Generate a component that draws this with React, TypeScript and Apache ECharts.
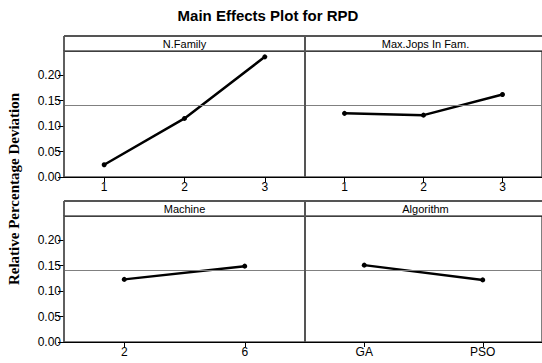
import React, { useEffect, useRef } from "react";
import * as echarts from "echarts";

const chartTitle = "Main Effects Plot for RPD";
const yAxisTitle = "Relative Percentage Deviation";
const panelTitles = ["N.Family", "Max.Jops In Fam.", "Machine", "Algorithm"];
const nFamilyLevels = ["1", "2", "3"];
const nFamilyMeans = [0.024, 0.115, 0.236];
const maxJopsLevels = ["1", "2", "3"];
const maxJopsMeans = [0.125, 0.1215, 0.162];
const machineLevels = ["2", "6"];
const machineMeans = [0.123, 0.149];
const algorithmLevels = ["GA", "PSO"];
const algorithmMeans = [0.151, 0.122];
const grandMean = 0.136;
const yTicks = [0, 0.05, 0.1, 0.15, 0.2];
const yMin = 0;
const yMax = 0.2475;

const levels = [nFamilyLevels, maxJopsLevels, machineLevels, algorithmLevels];
const means = [nFamilyMeans, maxJopsMeans, machineMeans, algorithmMeans];

export default function App() {
  const ref = useRef<HTMLDivElement>(null);
  useEffect(() => {
    if (!ref.current) return;
    const chart = echarts.init(ref.current, null, { renderer: "svg" });
    const PW = 241;
    const PH = 126;
    const SH = 15;
    const lefts = [64, 305, 64, 305];
    const tops = [51, 51, 216, 216];
    const font = "Liberation Sans";

    const grids = lefts.map((l, i) => ({
      left: l,
      top: tops[i],
      width: PW,
      height: PH,
      show: true,
      borderColor: "#555",
      borderWidth: 1.5,
      backgroundColor: "#fff",
    }));

    const xAxes = levels.map((lv, i) => ({
      type: "category",
      gridIndex: i,
      data: lv,
      boundaryGap: true,
      axisLine: { show: true, lineStyle: { color: "#000", width: 1 } },
      axisTick: { show: true, alignWithLabel: true, length: 5, lineStyle: { color: "#000" } },
      axisLabel: { color: "#000", fontFamily: font, fontSize: 12, margin: 4 },
      splitLine: { show: false },
    }));

    const yAxes = levels.map((_, i) => {
      const showLab = i % 2 === 0;
      return {
        type: "value",
        gridIndex: i,
        min: yMin,
        max: yMax,
        interval: 0.05,
        axisLine: { show: false },
        axisTick: {
          show: showLab,
          length: 6,
          lineStyle: { color: "#000" },
          customValues: yTicks,
        },
        axisLabel: {
          show: showLab,
          color: "#000",
          fontFamily: font,
          fontSize: 12,
          margin: 3,
          customValues: yTicks,
          formatter: (v: number) => v.toFixed(2),
        },
        splitLine: { show: false },
      };
    });

    const series = means.map((m, i) => ({
      type: "line",
      xAxisIndex: i,
      yAxisIndex: i,
      data: m,
      symbol: "circle",
      symbolSize: 5,
      lineStyle: { color: "#000", width: 2.5 },
      itemStyle: { color: "#000" },
      markLine: {
        silent: true,
        symbol: ["none", "none"],
        label: { show: false },
        lineStyle: { color: "#808080", width: 1, type: "solid" },
        data: [{ yAxis: grandMean }],
      },
      z: 3,
    }));

    const graphic: any[] = [];
    lefts.forEach((l, i) => {
      const t = tops[i] - SH;
      graphic.push({
        type: "rect",
        shape: { x: l, y: t, width: PW, height: SH },
        style: { fill: "#fff", stroke: "#000", lineWidth: 1 },
        z: 10,
      });
      graphic.push({
        type: "text",
        x: l + PW / 2,
        y: t + SH / 2 + 0.5,
        style: {
          text: panelTitles[i],
          fontFamily: font,
          fontSize: 11,
          fill: "#000",
          align: "center",
          verticalAlign: "middle",
        },
        z: 11,
      });
    });
    [36, 201].forEach((y, r) => {
      const bottom = tops[r * 2] + PH;
      graphic.push({
        type: "line",
        shape: { x1: 64, y1: y, x2: 546, y2: y },
        style: { stroke: "#555", lineWidth: 2 },
        z: 12,
      });
      graphic.push({
        type: "line",
        shape: { x1: 64, y1: y, x2: 64, y2: bottom },
        style: { stroke: "#555", lineWidth: 1.5 },
        z: 12,
      });
      graphic.push({
        type: "line",
        shape: { x1: 305, y1: y, x2: 305, y2: bottom },
        style: { stroke: "#555", lineWidth: 2 },
        z: 12,
      });
    });
    graphic.push({
      type: "text",
      x: 268,
      y: 15,
      style: {
        text: chartTitle,
        fontFamily: font,
        fontWeight: "bold",
        fontSize: 15,
        fill: "#000",
        align: "center",
        verticalAlign: "middle",
      },
    });
    graphic.push({
      type: "text",
      x: 14,
      y: 189,
      rotation: Math.PI / 2,
      style: {
        text: yAxisTitle,
        fontFamily: "Liberation Serif",
        fontWeight: "bold",
        fontSize: 15,
        fill: "#000",
        align: "center",
        verticalAlign: "middle",
      },
    });

    chart.setOption({
      animation: false,
      backgroundColor: "#fff",
      grid: grids,
      xAxis: xAxes,
      yAxis: yAxes,
      series,
      graphic,
    });
    return () => chart.dispose();
  }, []);
  return (
    <div
      ref={ref}
      style={{ position: "absolute", left: 0, top: 0, width: 542, height: 363 }}
    />
  );
}
